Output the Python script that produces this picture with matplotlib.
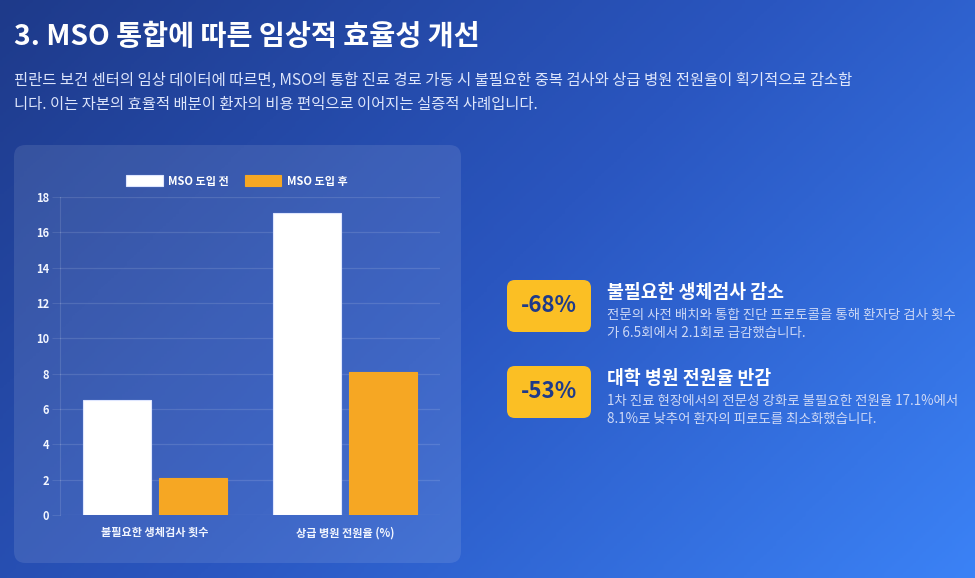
import matplotlib
matplotlib.use('Agg')
import matplotlib.pyplot as plt
import numpy as np
from matplotlib.patches import FancyBboxPatch
from matplotlib.colors import LinearSegmentedColormap

plt.rcParams['font.family'] = ['Noto Sans CJK KR', 'DejaVu Sans']

# data
categories = ['불필요한 생체검사 횟수', '상급 병원 전원율 (%)']
before = [6.5, 17.1]
after = [2.1, 8.1]
series_names = ['MSO 도입 전', 'MSO 도입 후']
yticks = [0, 2, 4, 6, 8, 10, 12, 14, 16, 18]

title = '3. MSO 통합에 따른 임상적 효율성 개선'
subtitle = ['핀란드 보건 센터의 임상 데이터에 따르면, MSO의 통합 진료 경로 가동 시 불필요한 중복 검사와 상급 병원 전원율이 획기적으로 감소합',
            '니다. 이는 자본의 효율적 배분이 환자의 비용 편익으로 이어지는 실증적 사례입니다.']
badges = ['-68%', '-53%']
card_titles = ['불필요한 생체검사 감소', '대학 병원 전원율 반감']
card_desc = [['전문의 사전 배치와 통합 진단 프로토콜을 통해 환자당 검사 횟수',
              '가 6.5회에서 2.1회로 급감했습니다.'],
             ['1차 진료 현장에서의 전문성 강화로 불필요한 전원율 17.1%에서',
              '8.1%로 낮추어 환자의 피로도를 최소화했습니다.']]

W, H = 975, 578
fig = plt.figure(figsize=(W / 100, H / 100), dpi=100)

def fx(x):
    return x / W

def fy(y):
    return 1 - y / H

# background gradient
bg = fig.add_axes([0, 0, 1, 1])
gx, gy = np.meshgrid(np.linspace(0, 1, 300), np.linspace(0, 1, 200))
grad = (gx * W + gy * H) / (W + H)
cmap = LinearSegmentedColormap.from_list('bg', ['#1e3a8a', '#2a56c0', '#3b82f6'])
bg.imshow(grad, cmap=cmap, aspect='auto', extent=[0, 1, 0, 1], origin='upper')
bg.set_xlim(0, 1)
bg.set_ylim(0, 1)
bg.axis('off')

# panel
panel = FancyBboxPatch((fx(14), fy(563)), fx(447), (563 - 145) / H,
                       boxstyle='round,pad=0,rounding_size=0.012',
                       transform=fig.transFigure, facecolor='white', alpha=0.1,
                       edgecolor='none', mutation_aspect=W / H)
fig.patches.append(panel)

# heading texts
fig.text(fx(14), fy(37), title, fontsize=20.4, fontweight='bold', color='white', va='center')
for i, line in enumerate(subtitle):
    fig.text(fx(14), fy(80 + i * 24), line, fontsize=11.1,
             color='#dde5fb', va='center')

# chart
ax = fig.add_axes([fx(60), fy(515), 380 / W, 318 / H])
ax.set_facecolor('none')
x = np.arange(len(categories))
bw = 0.36
ax.bar(x - 0.2, before, bw, color='white', edgecolor='#dbe4ff', linewidth=0.8,
       label=series_names[0], zorder=3)
ax.bar(x + 0.2, after, bw, color='#f59e0b', edgecolor='#f59e0b', linewidth=0.8,
       label=series_names[1], zorder=3)
ax.set_xlim(-0.5, 1.5)
ax.set_ylim(0, 18)
ax.set_yticks(yticks)
ax.set_xticks(x)
ax.set_xticklabels(categories)
for lab in ax.get_xticklabels() + ax.get_yticklabels():
    lab.set_fontweight('bold')
    lab.set_color('#f1f5ff')
    lab.set_fontsize(8)
ax.tick_params(axis='x', length=0, pad=8)
ax.tick_params(axis='y', length=6, color=(1, 1, 1, 0.1), pad=2)
ax.grid(axis='y', color='white', alpha=0.12, linewidth=0.9, zorder=0)
for s in ['top', 'right', 'bottom']:
    ax.spines[s].set_visible(False)
ax.spines['left'].set_color((1, 1, 1, 0.12))

leg = ax.legend(loc='center', bbox_to_anchor=(fx(237), fy(181)),
                bbox_transform=fig.transFigure, ncol=2, frameon=False,
                handlelength=3.3, handleheight=1.1, handletextpad=0.5,
                columnspacing=1.4, prop={'weight': 'bold', 'size': 8})
for t in leg.get_texts():
    t.set_color('white')

# cards on the right
for i in range(2):
    top = 280 + i * 86
    box = FancyBboxPatch((fx(507), fy(top + 52)), fx(84), 52 / H,
                         boxstyle='round,pad=0,rounding_size=0.008',
                         transform=fig.transFigure, facecolor='#fbbf24',
                         edgecolor='none', mutation_aspect=W / H)
    fig.patches.append(box)
    fig.text(fx(549), fy(top + 26), badges[i], fontsize=16, fontweight='bold',
             color='#1e3a8a', ha='center', va='center')
    fig.text(fx(607), fy(top + 13), card_titles[i], fontsize=13.2, fontweight='bold',
             color='white', va='center')
    for j, line in enumerate(card_desc[i]):
        fig.text(fx(607), fy(top + 35 + j * 18), line, fontsize=9.7,
                 color='#cdd8f6', va='center')

fig.savefig('out.png', dpi=100)
